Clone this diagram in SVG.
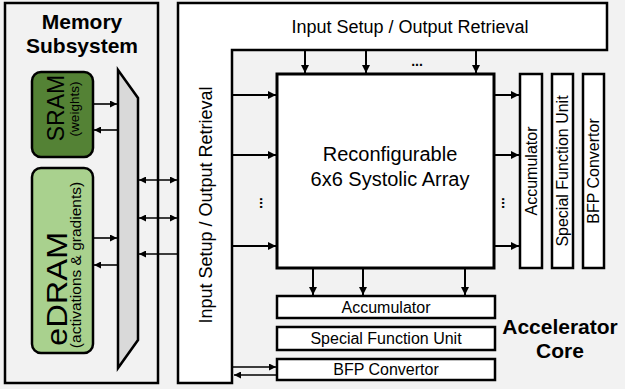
<svg xmlns="http://www.w3.org/2000/svg" width="638" height="389" viewBox="0 0 638 389">
<style>
text{font-family:"Liberation Sans",Arial,sans-serif;fill:#000}
.box{fill:#fff;stroke:#000;stroke-width:2.5}
.thick{fill:#fff;stroke:#000;stroke-width:3}
.t18{font-size:18px;text-anchor:middle}
.t16{font-size:16px;text-anchor:middle}
.b21{font-size:21px;font-weight:bold;text-anchor:middle}
.c{stroke:#000;stroke-width:2;fill:none}
.cm{stroke:#000;stroke-width:1.6;fill:none}
.dots{font-size:14px;font-weight:bold;text-anchor:middle}
</style>
<defs>
<marker id="ah" viewBox="0 0 10 10" refX="10" refY="5" markerWidth="9" markerHeight="8" markerUnits="userSpaceOnUse" orient="auto-start-reverse"><path d="M0,0 L10,5 L0,10 z" fill="#000"/></marker>
<marker id="as" viewBox="0 0 10 10" refX="10" refY="5" markerWidth="8" markerHeight="7" markerUnits="userSpaceOnUse" orient="auto-start-reverse"><path d="M0,0 L10,5 L0,10 z" fill="#000"/></marker>
</defs>
<rect x="0" y="0" width="625" height="389" fill="#f2f2f2"/>
<rect x="625" y="0" width="13" height="389" fill="#fff"/>

<g id="memory-subsystem">
<rect x="5" y="3" width="153" height="380" fill="none" stroke="#000" stroke-width="2.5"/>
<text class="b21" x="82" y="29">Memory</text>
<text class="b21" x="82" y="53">Subsystem</text>
</g>
<g id="sram">
<rect x="32" y="72" width="61" height="85" rx="9" fill="#548235" stroke="#000" stroke-width="2.5"/>
<text transform="translate(64,108) rotate(-90)" style="font-size:23px;text-anchor:middle">SRAM</text>
<text transform="translate(79,109) rotate(-90)" style="font-size:13.5px;text-anchor:middle">(weights)</text>
</g>
<g id="edram">
<rect x="32" y="168" width="61" height="185" rx="9" fill="#a9d18e" stroke="#000" stroke-width="2.5"/>
<text transform="translate(67,289) rotate(-90)" style="font-size:30px;text-anchor:middle" textLength="114" lengthAdjust="spacingAndGlyphs">eDRAM</text>
<text transform="translate(81,265) rotate(-90)" style="font-size:15.5px;text-anchor:middle">(activations &amp; gradients)</text>
</g>
<g id="mux">
<polygon points="118,70 138,98 138,340 118,368" fill="#d9d9d9" stroke="#000" stroke-width="2.5"/>
</g>

<g id="io-frame">
<path d="M178,3 H607 V50 H232 V383 H178 Z" class="box"/>
<text class="t18" x="410" y="33">Input Setup / Output Retrieval</text>
<text class="t18" transform="translate(212,205) rotate(-90)">Input Setup / Output Retrieval</text>
</g>
<g id="systolic-array">
<rect x="277" y="74" width="217" height="194" class="thick"/>
<text x="390" y="161" style="font-size:20px;text-anchor:middle">Reconfigurable</text>
<text x="390" y="186" style="font-size:20px;text-anchor:middle">6x6 Systolic Array</text>
</g>
<g id="acc-v">
<rect x="520" y="74" width="22" height="194" class="box"/>
<text class="t16" transform="translate(537,171) rotate(-90)">Accumulator</text>
</g>
<g id="sfu-v">
<rect x="552" y="74" width="21" height="194" class="box"/>
<text class="t16" transform="translate(568,171) rotate(-90)">Special Function Unit</text>
</g>
<g id="bfp-v">
<rect x="583" y="74" width="21" height="194" class="box"/>
<text class="t16" transform="translate(599,171) rotate(-90)">BFP Convertor</text>
</g>
<g id="acc-h">
<rect x="277" y="296" width="218" height="22" class="box"/>
<text class="t16" x="386" y="313">Accumulator</text>
</g>
<g id="sfu-h">
<rect x="277" y="327" width="218" height="23" class="box"/>
<text class="t16" x="386" y="344">Special Function Unit</text>
</g>
<g id="bfp-h">
<rect x="277" y="359" width="218" height="21" class="box"/>
<text class="t16" x="386" y="375">BFP Convertor</text>
</g>
<g id="accelerator-label">
<text class="b21" x="560" y="334">Accelerator</text>
<text class="b21" x="560" y="358">Core</text>
</g>

<g id="connectors">
<line class="cm" x1="93" y1="104" x2="117" y2="104" marker-end="url(#as)"/>
<line class="cm" x1="117" y1="130" x2="94" y2="130" marker-end="url(#as)"/>
<line class="cm" x1="93" y1="238" x2="117" y2="238" marker-end="url(#as)"/>
<line class="cm" x1="117" y1="265" x2="94" y2="265" marker-end="url(#as)"/>
<line class="cm" x1="139" y1="180" x2="177" y2="180" marker-start="url(#as)" marker-end="url(#as)"/>
<line class="cm" x1="139" y1="218" x2="177" y2="218" marker-start="url(#as)" marker-end="url(#as)"/>
<line class="cm" x1="177" y1="254" x2="139" y2="254" marker-end="url(#as)"/>
<line class="c" x1="305" y1="51" x2="305" y2="73" marker-end="url(#ah)"/>
<line class="c" x1="366" y1="51" x2="366" y2="73" marker-end="url(#ah)"/>
<line class="c" x1="476" y1="51" x2="476" y2="73" marker-end="url(#ah)"/>
<text class="dots" x="417" y="66">...</text>
<line class="c" x1="233" y1="95" x2="276" y2="95" marker-end="url(#ah)"/>
<line class="c" x1="233" y1="155" x2="276" y2="155" marker-end="url(#ah)"/>
<line class="c" x1="233" y1="246" x2="276" y2="246" marker-end="url(#ah)"/>
<text class="dots" transform="translate(260,203) rotate(90)">...</text>
<line class="c" x1="495" y1="95" x2="519" y2="95" marker-end="url(#ah)"/>
<line class="c" x1="495" y1="155" x2="519" y2="155" marker-end="url(#ah)"/>
<line class="c" x1="495" y1="246" x2="519" y2="246" marker-end="url(#ah)"/>
<text class="dots" transform="translate(502,203) rotate(90)">...</text>
<line class="c" x1="313" y1="269" x2="313" y2="295" marker-end="url(#ah)"/>
<line class="c" x1="363" y1="269" x2="363" y2="295" marker-end="url(#ah)"/>
<line class="c" x1="465" y1="269" x2="465" y2="295" marker-end="url(#ah)"/>
<line class="cm" x1="233" y1="367" x2="276" y2="367" marker-end="url(#as)"/>
<line class="cm" x1="276" y1="375" x2="234" y2="375" marker-end="url(#as)"/>
</g>
</svg>
